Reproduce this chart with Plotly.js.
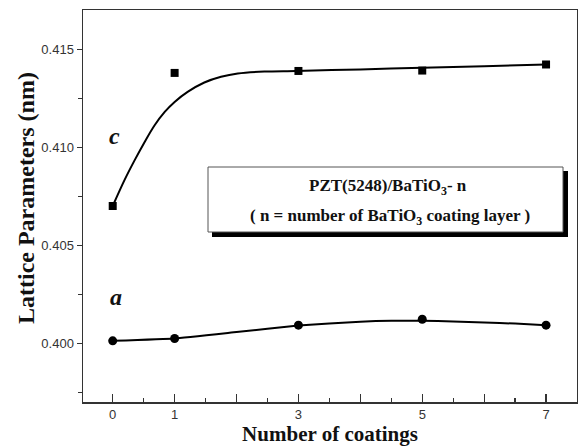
<!DOCTYPE html>
<html>
<head>
<meta charset="utf-8">
<script src="https://cdn.plot.ly/plotly-3.0.1.min.js"></script>
<style>html,body{margin:0;padding:0;background:#fff;}#chart{width:578px;height:448px;}</style>
</head>
<body>
<div id="chart"></div>
<script>
// Measured points
const coatings = [0, 1, 3, 5, 7];
const latticeC = [0.40700, 0.41379, 0.41389, 0.41391, 0.41422];
const latticeA = [0.40012, 0.40024, 0.40092, 0.40122, 0.40092];
// Fitted curves
const fitCx = [0, 0.19, 0.355, 0.516, 0.677, 0.84, 1.0, 1.21, 1.48, 1.75, 2.02, 2.45, 2.96, 4, 5, 6, 7];
const fitCy = [0.40700, 0.40832, 0.40934, 0.41027, 0.41112, 0.41180, 0.41231, 0.41282, 0.41330, 0.41359, 0.41376, 0.41386, 0.41389, 0.41397, 0.41405, 0.41413, 0.41422];
const fitAx = [0, 1, 2, 3, 4, 4.5, 5, 5.5, 6, 6.5, 7];
const fitAy = [0.40012, 0.40024, 0.40057, 0.40090, 0.40110, 0.40115, 0.40115, 0.40111, 0.40106, 0.40100, 0.40092];
const xLabelVals = [0, 1, 3, 5, 7];
const xLabelText = ['0', '1', '3', '5', '7'];
const xUnlabeledVals = [2, 4, 6];
const yTickVals = [0.400, 0.405, 0.410, 0.415];
const yTickText = ['0.400', '0.405', '0.410', '0.415'];

const serif = 'Liberation Serif, Times New Roman, serif';
const sans = 'Liberation Sans, Arial, sans-serif';

const traces = [
  {x: fitCx, y: fitCy, mode: 'lines', line: {color: '#000', width: 2, shape: 'spline', smoothing: 0.9}, hoverinfo: 'skip'},
  {x: fitAx, y: fitAy, mode: 'lines', line: {color: '#000', width: 2, shape: 'spline', smoothing: 0.3}, hoverinfo: 'skip'},
  {x: coatings, y: latticeC, mode: 'markers', marker: {symbol: 'square', size: 8, color: '#000'}},
  {x: coatings, y: latticeA, mode: 'markers', marker: {symbol: 'circle', size: 9, color: '#000'}},
  {x: [], y: [], xaxis: 'x2', yaxis: 'y', mode: 'markers', hoverinfo: 'skip'}
];

const px = v => (v - 83) / 494;
const py = v => (402 - v) / 392;

const layout = {
  width: 578, height: 448,
  margin: {l: 83, r: 1, t: 10, b: 46},
  paper_bgcolor: '#fff', plot_bgcolor: '#fff',
  showlegend: false,
  xaxis: {
    range: [-0.48, 7.5], showgrid: false, zeroline: false,
    showline: true, mirror: true, linecolor: '#333', linewidth: 1.5,
    tickmode: 'array', tickvals: xLabelVals, ticktext: xLabelText,
    ticks: 'inside', ticklen: 8, tickwidth: 1.2, tickcolor: '#333',
    minor: {dtick: 0.5, tick0: 0, ticks: 'inside', ticklen: 4, tickwidth: 1.2, tickcolor: '#333'},
    tickfont: {family: sans, size: 13, color: '#333'},
    title: {text: '<b>Number of coatings</b>', font: {family: serif, size: 21, color: '#111'}, standoff: 4}
  },
  xaxis2: {
    overlaying: 'x', matches: 'x', anchor: 'y', side: 'bottom',
    range: [-0.48, 7.5], showgrid: false, zeroline: false, showline: false,
    tickmode: 'array', tickvals: xUnlabeledVals, showticklabels: false,
    ticks: 'inside', ticklen: 8, tickwidth: 1.2, tickcolor: '#333'
  },
  yaxis: {
    range: [0.397, 0.417], showgrid: false, zeroline: false,
    showline: true, mirror: true, linecolor: '#333', linewidth: 1.5,
    tickmode: 'array', tickvals: yTickVals, ticktext: yTickText,
    ticks: 'outside', ticklen: 5, tickwidth: 1.2, tickcolor: '#333',
    minor: {dtick: 0.0025, tick0: 0.3975, ticks: 'outside', ticklen: 4, tickwidth: 1.2, tickcolor: '#333'},
    tickfont: {family: sans, size: 13, color: '#333'}
  },
  shapes: [
    {type: 'rect', xref: 'paper', yref: 'paper', x0: px(212), x1: px(568), y0: py(237), y1: py(171),
     fillcolor: '#000', line: {width: 0}, layer: 'above'},
    {type: 'rect', xref: 'paper', yref: 'paper', x0: px(208), x1: px(563), y0: py(232), y1: py(167),
     fillcolor: '#fff', line: {width: 1, color: '#555'}, layer: 'above'}
  ],
  annotations: [
    {xref: 'paper', yref: 'paper', x: px(26), y: py(198), xanchor: 'center', yanchor: 'middle', textangle: -90,
     text: '<b>Lattice Parameters (nm)</b>', showarrow: false, font: {family: serif, size: 24, color: '#111'}},
    {xref: 'paper', yref: 'paper', x: px(388), y: py(187), xanchor: 'center', yanchor: 'middle',
     text: '<b>PZT(5248)/BaTiO<sub>3</sub>- n</b>', showarrow: false, font: {family: serif, size: 17, color: '#111'}},
    {xref: 'paper', yref: 'paper', x: px(390), y: py(217), xanchor: 'center', yanchor: 'middle',
     text: '<b>( n = number of BaTiO<sub>3</sub> coating layer )</b>', showarrow: false, font: {family: serif, size: 17, color: '#111'}},
    {xref: 'paper', yref: 'paper', x: px(114), y: py(136), xanchor: 'center', yanchor: 'middle',
     text: '<b><i>c</i></b>', showarrow: false, font: {family: serif, size: 24, color: '#111'}},
    {xref: 'paper', yref: 'paper', x: px(116), y: py(297), xanchor: 'center', yanchor: 'middle',
     text: '<b><i>a</i></b>', showarrow: false, font: {family: serif, size: 24, color: '#111'}}
  ]
};

Plotly.newPlot('chart', traces, layout, {displayModeBar: false, staticPlot: true});
</script>
</body>
</html>
